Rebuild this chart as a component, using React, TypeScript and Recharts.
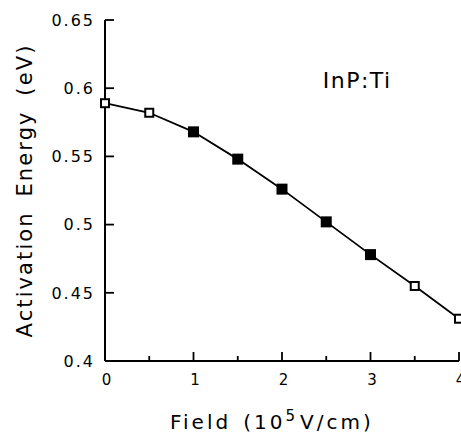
import React from 'react';
import { LineChart, Line, XAxis, YAxis, ReferenceDot, Label } from 'recharts';

const field = [0, 0.5, 1, 1.5, 2, 2.5, 3, 3.5, 4];
const activationEnergy = [0.589, 0.582, 0.568, 0.548, 0.526, 0.502, 0.478, 0.455, 0.431];
const filledMarker = [false, false, true, true, true, true, true, false, false];

const xTicks = [0, 0.5, 1, 1.5, 2, 2.5, 3, 3.5, 4];
const xTickLabels = ['0', '', '1', '', '2', '', '3', '', '4'];
const yTicks = [0.4, 0.45, 0.5, 0.55, 0.6, 0.65];
const yTickLabels = ['0.4', '0.45', '0.5', '0.55', '0.6', '0.65'];

const FONT = '"DejaVu Sans", "Liberation Sans", sans-serif';

const data = field.map((f, i) => ({ field: f, energy: activationEnergy[i], filled: filledMarker[i] }));

// inward tick marks: with tickSize 0 the tick x/y sits right on the axis line
const BottomTick = (props: any) => {
  const { x, y, index } = props;
  const major = xTickLabels[index] !== '';
  return (
    <g>
      <line x1={x} y1={y} x2={x} y2={y - (major ? 9 : 5)} stroke="#000" strokeWidth={1.8} />
      {major && (
        <text x={x + 2} y={y + 24} textAnchor="middle" fontSize={15} fontFamily={FONT} letterSpacing={1} fill="#000">
          {xTickLabels[index]}
        </text>
      )}
    </g>
  );
};

const TopTick = (props: any) => {
  const { x, y, index } = props;
  const major = xTickLabels[index] !== '';
  return <line x1={x} y1={y} x2={x} y2={y + (major ? 9 : 5)} stroke="#000" strokeWidth={1.8} />;
};

const LeftTick = (props: any) => {
  const { x, y, index } = props;
  return (
    <g>
      <line x1={x} y1={y} x2={x + 9} y2={y} stroke="#000" strokeWidth={1.8} />
      <text x={x - 10} y={y} dy="0.36em" textAnchor="end" fontSize={16} fontFamily={FONT} letterSpacing={2} fill="#000">
        {yTickLabels[index]}
      </text>
    </g>
  );
};

const RightTick = (props: any) => {
  const { x, y } = props;
  return <line x1={x} y1={y} x2={x - 7} y2={y} stroke="#000" strokeWidth={1.8} />;
};

const Marker = (props: any) => {
  const { cx, cy, payload, index } = props;
  if (payload.filled) {
    return <rect key={index} x={cx - 5.5} y={cy - 5.5} width={11} height={11} fill="#000" />;
  }
  return <rect key={index} x={cx - 4} y={cy - 4} width={8} height={8} fill="#fff" stroke="#000" strokeWidth={2} />;
};

const XTitle = (props: any) => {
  const { viewBox } = props;
  return (
    <text x={viewBox.x + 65} y={viewBox.y + 68} fontSize={20} fontFamily={FONT} letterSpacing={3} fill="#000">
      Field
      <tspan dx={12}>(10</tspan>
      <tspan dy={-8} fontSize={15}>5</tspan>
      <tspan dy={8} dx={2}>V/cm)</tspan>
    </text>
  );
};

const YTitle = (props: any) => {
  const { viewBox } = props;
  const cx = 32;
  const cy = viewBox.y + viewBox.height / 2;
  return (
    <text
      x={cx}
      y={cy}
      transform={`rotate(-90, ${cx}, ${cy})`}
      textAnchor="middle"
      fontSize={21}
      fontFamily={FONT}
      letterSpacing={2.1}
      wordSpacing={6}
      fill="#000"
    >
      Activation Energy (eV)
    </text>
  );
};

const Annotation = (props: any) => {
  const { viewBox } = props;
  return (
    <text x={viewBox.x + 1} y={viewBox.y + 1} fontSize={22} fontFamily={FONT} letterSpacing={1.5} fill="#000">
      InP:Ti
    </text>
  );
};

export default function App() {
  return (
    <div style={{ position: 'absolute', left: 0, top: 0, background: '#fff' }}>
      <LineChart width={461} height={435} data={data} margin={{ top: 20, right: 2, bottom: 0, left: 0 }}>
        <XAxis
          dataKey="field"
          type="number"
          domain={[0, 4]}
          ticks={xTicks}
          interval={0}
          height={74}
          tickSize={0}
          tickMargin={0}
          tickLine={false}
          axisLine={{ stroke: '#000', strokeWidth: 2 }}
          tick={<BottomTick />}
        >
          <Label content={<XTitle />} />
        </XAxis>
        <XAxis
          xAxisId="top"
          orientation="top"
          dataKey="field"
          type="number"
          domain={[0, 4]}
          ticks={xTicks}
          interval={0}
          height={0}
          tickSize={0}
          tickMargin={0}
          tickLine={false}
          axisLine={{ stroke: '#000', strokeWidth: 2 }}
          tick={<TopTick />}
        />
        <YAxis
          type="number"
          domain={[0.4, 0.65]}
          ticks={yTicks}
          interval={0}
          width={105}
          tickSize={0}
          tickMargin={0}
          tickLine={false}
          axisLine={{ stroke: '#000', strokeWidth: 2 }}
          tick={<LeftTick />}
        >
          <Label content={<YTitle />} />
        </YAxis>
        <YAxis
          yAxisId="right"
          orientation="right"
          type="number"
          domain={[0.4, 0.65]}
          ticks={yTicks}
          interval={0}
          width={0}
          tickSize={0}
          tickMargin={0}
          tickLine={false}
          axisLine={{ stroke: '#000', strokeWidth: 2 }}
          tick={<RightTick />}
        />
        <ReferenceDot x={2.46} y={0.6} r={1} fillOpacity={0} stroke="none" ifOverflow="visible">
          <Label content={<Annotation />} />
        </ReferenceDot>
        <Line
          dataKey="energy"
          type="linear"
          stroke="#000"
          strokeWidth={1.8}
          dot={<Marker />}
          activeDot={false}
          isAnimationActive={false}
        />
      </LineChart>
    </div>
  );
}
